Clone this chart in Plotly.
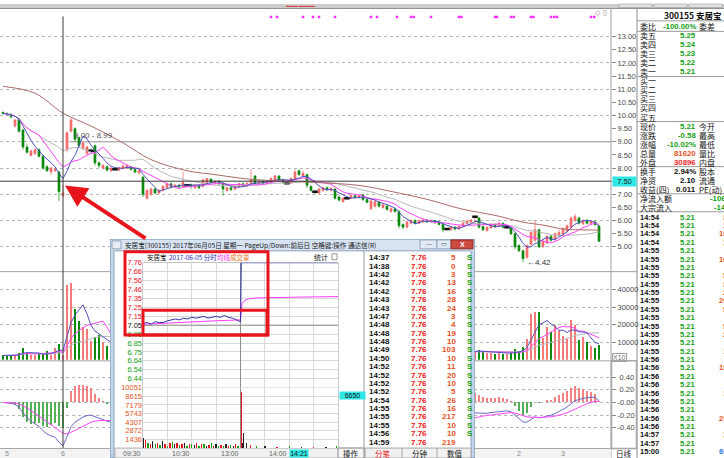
import pandas as pd
import plotly.graph_objects as go

W, H = 724, 458
CJK = "Noto Sans CJK SC"
LAT = "Liberation Sans"

RED = "#e8141b"
UP = "#f47a7a"
DOWN = "#0b8a0b"
GREEN = "#12a012"
ORANGE = "#e6501e"
BLUE_MA = "#5050bf"
PINK_MA = "#ff44ff"
GREY_MA = "#b8b8b8"
BROWN_MA = "#ad6a6a"

# ---------------- daily bars, 300155 (oldest -> newest) ----------------
opens = [
    10.12, 10.08, 10.02, 9.60, 9.85, 9.45, 8.80, 8.48, 8.55, 8.70,
    8.45, 8.05, 7.85, 7.90, 7.85, 6.95, 8.70, 9.40, 9.50, 9.15,
    8.75, 8.55, 8.66, 8.85, 8.20, 8.00, 8.05, 7.90, 7.95, 7.92,
    7.98, 8.00, 8.05, 7.95, 7.82, 7.65, 6.85, 7.00, 7.20, 7.05,
    7.15, 7.25, 7.40, 7.28, 7.35, 7.30, 7.35, 7.38, 7.25, 7.35,
    7.30, 7.45, 7.58, 7.42, 7.50, 7.42, 7.15, 7.25, 7.20, 7.28,
    7.40, 7.32, 7.40, 7.70, 7.40, 7.50, 7.42, 7.45, 7.55, 7.70,
    7.55, 7.42, 7.42, 7.60, 7.90, 7.70, 7.75, 7.30, 7.10, 7.05,
    7.15, 7.25, 7.15, 7.20, 6.90, 6.72, 6.85, 6.85, 6.95, 6.88,
    6.98, 6.80, 6.45, 6.55, 6.70, 6.50, 6.55, 6.35, 6.45, 6.35,
    5.85, 5.75, 5.90, 6.00, 5.90, 5.95, 6.02, 5.95, 6.00, 5.95,
    5.85, 5.68, 5.65, 5.75, 5.68, 5.78, 5.88, 5.95, 6.15, 6.10,
    5.78, 5.62, 5.72, 5.85, 5.78, 5.90, 5.75, 5.72, 5.50, 5.05,
    4.85, 4.60, 5.10, 5.25, 5.65, 5.00, 5.15, 5.40, 5.30, 5.45,
    5.50, 5.60, 5.75, 6.00, 6.10, 5.88, 6.00, 5.88, 5.95, 5.79,
]
highs = [
    10.15, 10.12, 10.10, 9.86, 9.90, 9.50, 8.90, 8.70, 8.75, 8.75,
    8.50, 8.10, 8.05, 8.00, 7.90, 7.35, 9.40, 9.90, 9.55, 9.20,
    9.00, 8.85, 8.75, 8.90, 8.25, 8.15, 8.10, 8.02, 8.00, 8.05,
    8.15, 8.12, 8.08, 7.98, 7.95, 7.70, 7.20, 7.25, 7.25, 7.20,
    7.35, 7.45, 7.45, 7.40, 7.40, 7.85, 7.40, 7.40, 7.40, 7.38,
    7.60, 7.62, 7.60, 7.55, 7.52, 7.45, 7.30, 7.28, 7.35, 7.45,
    7.45, 7.45, 7.95, 7.72, 7.55, 7.55, 7.55, 7.65, 7.75, 7.72,
    7.60, 7.50, 7.65, 7.95, 7.95, 7.90, 7.78, 7.35, 7.15, 7.25,
    7.30, 7.30, 7.28, 7.25, 6.95, 6.90, 6.90, 7.00, 6.98, 7.00,
    7.00, 6.85, 6.80, 6.80, 6.75, 6.65, 6.60, 6.50, 6.48, 6.40,
    5.90, 6.00, 6.05, 6.05, 6.05, 6.08, 6.05, 6.05, 6.02, 5.98,
    5.88, 5.72, 5.80, 5.78, 5.82, 5.95, 6.02, 6.05, 6.20, 6.12,
    5.80, 5.78, 5.90, 5.90, 5.95, 5.92, 5.80, 5.75, 5.55, 5.10,
    4.90, 5.10, 5.60, 6.00, 5.70, 5.30, 5.45, 5.45, 5.55, 5.65,
    5.75, 5.85, 6.15, 6.25, 6.15, 6.05, 6.05, 6.02, 6.00, 5.82,
]
lows = [
    10.05, 10.00, 9.90, 9.55, 9.35, 8.70, 8.55, 8.45, 8.50, 8.40,
    7.95, 7.85, 7.75, 7.85, 6.75, 6.90, 8.60, 9.35, 9.00, 8.80,
    8.70, 8.50, 8.60, 8.10, 8.00, 7.95, 7.88, 7.85, 7.90, 7.90,
    7.95, 7.98, 7.90, 7.80, 7.75, 6.90, 6.80, 6.95, 7.00, 7.00,
    7.10, 7.20, 7.25, 7.25, 7.25, 7.28, 7.30, 7.20, 7.20, 7.20,
    7.28, 7.40, 7.40, 7.38, 7.35, 6.95, 7.10, 7.12, 7.15, 7.25,
    7.28, 7.30, 7.38, 7.35, 7.38, 7.38, 7.40, 7.42, 7.50, 7.50,
    7.40, 7.38, 7.40, 7.55, 7.70, 7.65, 7.25, 7.10, 7.00, 7.00,
    7.10, 7.12, 7.10, 6.80, 6.72, 6.70, 6.80, 6.82, 6.85, 6.85,
    6.75, 6.65, 6.40, 6.50, 6.50, 6.45, 6.38, 6.30, 6.30, 5.70,
    5.68, 5.72, 5.85, 5.85, 5.88, 5.92, 5.90, 5.92, 5.88, 5.82,
    5.55, 5.62, 5.62, 5.62, 5.65, 5.75, 5.85, 5.90, 5.90, 5.70,
    5.60, 5.58, 5.70, 5.72, 5.75, 5.70, 5.70, 5.45, 4.90, 4.80,
    4.42, 4.55, 5.05, 5.20, 4.95, 4.98, 5.10, 5.20, 5.25, 5.40,
    5.45, 5.55, 5.70, 5.95, 5.85, 5.82, 5.85, 5.85, 5.80, 5.21,
]
closes = [
    10.08, 10.05, 9.95, 9.83, 9.40, 8.80, 8.60, 8.65, 8.70, 8.45,
    8.00, 7.90, 8.00, 7.95, 7.10, 7.05, 9.34, 9.83, 9.10, 8.85,
    8.95, 8.80, 8.66, 8.20, 8.10, 8.10, 7.92, 8.00, 7.95, 8.00,
    8.08, 8.10, 7.95, 7.85, 7.90, 7.00, 7.15, 7.20, 7.05, 7.15,
    7.30, 7.40, 7.30, 7.35, 7.28, 7.45, 7.35, 7.30, 7.35, 7.25,
    7.55, 7.60, 7.45, 7.50, 7.40, 7.20, 7.25, 7.18, 7.30, 7.40,
    7.32, 7.42, 7.55, 7.40, 7.50, 7.42, 7.50, 7.60, 7.70, 7.55,
    7.45, 7.42, 7.60, 7.85, 7.75, 7.80, 7.35, 7.15, 7.10, 7.20,
    7.25, 7.18, 7.22, 6.85, 6.78, 6.85, 6.85, 6.95, 6.88, 6.95,
    6.80, 6.70, 6.75, 6.72, 6.55, 6.60, 6.42, 6.45, 6.35, 5.80,
    5.75, 5.95, 6.00, 5.90, 6.00, 6.02, 5.95, 6.00, 5.92, 5.85,
    5.65, 5.68, 5.75, 5.68, 5.78, 5.90, 5.98, 6.02, 6.15, 5.75,
    5.65, 5.75, 5.85, 5.78, 5.90, 5.75, 5.75, 5.50, 5.00, 4.85,
    4.55, 5.05, 5.55, 5.65, 5.00, 5.20, 5.40, 5.25, 5.50, 5.55,
    5.70, 5.80, 6.10, 6.15, 5.90, 6.00, 5.90, 5.98, 5.85, 5.21,
]
volumes = [
    2500, 2200, 3000, 2800, 4000, 7000, 4000, 2500, 3000, 3200,
    3500, 4900, 3000, 7000, 9000, 3000, 43000, 44000, 29000, 22000,
    19000, 17500, 10700, 13000, 14000, 10000, 8000, 5000, 6000, 5500,
    7000, 6500, 5000, 4500, 4800, 9000, 8000, 6000, 4500, 5000,
    5500, 6000, 4500, 5000, 4200, 9500, 4000, 4500, 5000, 4200,
    7500, 8000, 5500, 5000, 4500, 7000, 5000, 4200, 4500, 5000,
    4800, 5200, 9000, 7000, 5000, 4500, 5000, 6000, 7000, 5500,
    5000, 4000, 6500, 9500, 8000, 6500, 7500, 6000, 4500, 4800,
    5000, 4500, 4200, 7000, 5500, 4500, 3800, 4200, 4000, 4300,
    4800, 4500, 6500, 5000, 4500, 4000, 4500, 4200, 4000, 8500,
    6000, 5500, 4800, 4200, 4000, 4300, 3800, 4000, 3900, 4200,
    6000, 4200, 4500, 4000, 4300, 5000, 5200, 4800, 5000, 5500,
    4500, 3800, 4200, 3600, 4000, 3500, 3200, 4500, 6000, 5000,
    7500, 12000, 26000, 27500, 27500, 12500, 19000, 16000, 20000, 16500,
    13500, 12000, 23000, 20000, 11500, 13000, 10000, 8000, 7000, 8500,
]

# 60-day average (bar index, price)
ma60_idx = [0, 8, 15, 22, 30, 37, 46, 53, 62, 70, 78, 89, 98, 106, 115, 123, 130, 135, 140, 148, 149]
ma60_val = [11.11, 10.85, 10.09, 9.60, 8.96, 8.32, 7.90, 7.75, 7.57, 7.50, 7.45, 7.34,
            7.08, 6.81, 6.43, 6.20, 5.94, 5.83, 5.68, 5.64, 5.63]

# info-mine markers along the top edge (bar index)
event_idx = [67, 68.5, 75, 77.5, 79, 83, 92, 93.5, 98.5, 102, 102.7, 107, 114, 114.6,
             123, 123.5, 127, 127.7, 132, 132.6, 137, 137.8, 138.5, 147, 147.8]

date_idx = [0, 14, 128, 139]
date_txt = ["5", "6", "2", "3"]
cross_idx = 15
cross_price = 7.50

# ---------------- intraday 2017-06-05 (minutes after 09:30) ----------------
base_price = 7.05
tick_min = [0, 5, 10, 15, 20, 25, 30, 35, 40, 45, 50, 55, 60, 65, 70, 75, 80, 85, 90, 95,
            100, 105, 110, 115, 120, 121, 240]
tick_px = [7.07, 7.08, 7.06, 7.09, 7.08, 7.08, 7.10, 7.11, 7.12, 7.11, 7.13, 7.12, 7.14,
           7.13, 7.14, 7.15, 7.13, 7.14, 7.15, 7.14, 7.16, 7.14, 7.13, 7.11, 7.09, 7.76, 7.76]
avg_min = [0, 30, 60, 90, 120, 121, 122, 125, 130, 140, 160, 200, 240]
avg_px = [7.06, 7.075, 7.09, 7.10, 7.11, 7.25, 7.30, 7.33, 7.35, 7.36, 7.365, 7.37, 7.375]
ivol_min = [0, 3, 6, 9, 12, 15, 18, 21, 24, 27, 30, 33, 36, 39, 42, 45, 48, 51, 54, 57,
            60, 63, 66, 69, 72, 75, 78, 81, 84, 87, 90, 93, 96, 99, 102, 105, 108, 111, 114, 117,
            121, 123, 124, 127, 132, 140, 150, 165, 180, 195, 210, 225, 238]
ivol = [1600, 1300, 900, 700, 1100, 600, 800, 500, 1200, 700, 400, 900, 1000, 600, 800, 500,
        700, 900, 400, 600, 700, 500, 800, 400, 600, 700, 300, 500, 900, 400, 600, 300, 500,
        400, 700, 300, 500, 400, 600, 300,
        9400, 800, 2500, 900, 500, 350, 300, 250, 300, 200, 250, 200, 300]
ivol_dir = list("krgrkgrgkrgrgkrgrkgrgkrgrgkrgrkgrgkrgkrg") + list("rkkkrgkrgkrkg")
pct_levels = [10.07, 8.63, 7.19, 5.75, 4.32, 2.88, 1.44, 0.00, -1.44, -2.88, -4.32, -5.75, -7.19, -8.63]
price_labels = ["7.76", "7.66", "7.56", "7.46", "7.35", "7.25", "7.15", "7.05", "6.95", "6.85",
                "6.75", "6.64", "6.54", "6.44"]
ivol_ticks = [1436, 2872, 4307, 5743, 7179, 8615, 10051]

# tick-by-tick list in the pop-up
fb_time = ["14:37", "14:38", "14:42", "14:42", "14:42", "14:43", "14:43", "14:47", "14:48",
           "14:48", "14:48", "14:49", "14:50", "14:52", "14:52", "14:52", "14:52", "14:54",
           "14:55", "14:55", "14:55", "14:56", "14:59"]
fb_price = ["7.76", "7.76", "7.76", "7.76", "7.76", "7.76", "7.76", "7.76", "7.76", "7.76",
            "7.76", "7.76", "7.76", "7.76", "7.76", "7.76", "7.76", "7.76", "7.76", "7.76",
            "7.76", "7.76", "7.76"]
fb_vol = [5, 0, 3, 13, 16, 28, 24, 3, 4, 19, 10, 103, 10, 11, 20, 10, 5, 26, 16, 217, 10, 10, 219]
fb_flag = ["S", "S", "S", "S", "S", "S", "S", "S", "S", "S", "S", "S", "S", "S", "S", "S",
           "S", "S", "S", "S", "S", "S", ""]

# quote panel on the right
quote_labels = ["委比", "卖五", "卖四", "卖三", "卖二", "卖一", "买一", "买二", "买三", "买四", "买五",
                "现价", "涨跌", "涨幅", "总量", "外盘", "换手", "净资", "收益(四)", "净流入额", "大宗流入"]
quote_values = ["-100.00%", "5.25", "5.24", "5.23", "5.22", "5.21", "", "", "", "", "",
                "5.21", "-0.58", "-10.02%", "81620", "30896", "2.94%", "2.10", "0.011", "-106", "-14"]
quote_kind = ["g", "g", "g", "g", "g", "g", "", "", "", "", "",
              "g", "g", "g", "o", "r", "k", "k", "k", "g", "g"]
quote_right = ["委差", "", "", "", "", "", "", "", "", "", "",
               "今开", "最高", "最低", "量比", "内盘", "股本", "流通", "PE(动)", "", ""]
tr_time = ["14:54", "14:54", "14:54", "14:54", "14:55", "14:55", "14:55", "14:55", "14:55",
           "14:55", "14:55", "14:55", "14:55", "14:55", "14:55", "14:55", "14:55", "14:56",
           "14:56", "14:56", "14:56", "14:56", "14:56", "14:56", "14:56", "14:56", "14:57",
           "14:57", "15:00"]
tr_price = ["5.21"] * 29
tr_vol = ["3", "1", "10", "1", "", "10", "", "5", "3", "2", "20", "5", "", "5", "2", "",
          "1", "", "15", "", "", "1", "", "", "25", "", "1", "", "60"]

KIND = {"g": GREEN, "r": "#f01e1e", "o": ORANGE, "k": "#111111", "": "#111111"}
DIR = {"r": RED, "g": GREEN, "k": "#222222"}

# ---------------- derived indicators ----------------
idx = list(range(len(closes)))
s = pd.Series(closes, dtype=float)
ma5 = s.rolling(5, min_periods=1).mean()
ma10 = s.rolling(10, min_periods=1).mean()
ma20 = s.rolling(20, min_periods=1).mean()
dif = s.ewm(span=12, adjust=False).mean() - s.ewm(span=26, adjust=False).mean()
dea = dif.ewm(span=9, adjust=False).mean()
macd = 2 * (dif - dea)
v = pd.Series(volumes, dtype=float)


def px(x):
    return x / W


def py(y):
    return 1 - y / H


fig = go.Figure()
nohover = dict(hoverinfo="skip", showlegend=False)

# price panel
fig.add_trace(go.Candlestick(
    x=idx, open=opens, high=highs, low=lows, close=closes, xaxis="x", yaxis="y",
    increasing=dict(line=dict(color="#f06060", width=0.7), fillcolor=UP),
    decreasing=dict(line=dict(color=DOWN, width=0.7), fillcolor=DOWN),
    whiskerwidth=0, **nohover))
doji = [i for i in idx if opens[i] == closes[i]]
fig.add_trace(go.Scatter(
    x=doji, y=[closes[i] for i in doji], mode="markers", xaxis="x", yaxis="y",
    marker=dict(symbol="line-ew", size=4, line=dict(color="#111", width=2.5)), **nohover))
for line, c in ((ma20, GREY_MA), (ma10, PINK_MA), (ma5, BLUE_MA)):
    fig.add_trace(go.Scatter(x=idx, y=line, mode="lines", xaxis="x", yaxis="y",
                             line=dict(color=c, width=1), **nohover))
fig.add_trace(go.Scatter(x=ma60_idx, y=ma60_val, mode="lines", xaxis="x", yaxis="y2",
                         line=dict(color=BROWN_MA, width=1, shape="spline"), **nohover))
fig.add_trace(go.Scatter(x=event_idx, y=[13.75] * len(event_idx), mode="markers", xaxis="x", yaxis="y",
                         marker=dict(symbol="square", size=2.5, color="#ff30ff"), **nohover))

# volume panel
vcol = [UP if c >= o else DOWN for o, c in zip(opens, closes)]
fig.add_trace(go.Bar(x=idx, y=volumes, width=0.6, xaxis="x2", yaxis="y3",
                     marker=dict(color=vcol, line=dict(width=0)), **nohover))
for n, c in ((20, GREY_MA), (10, PINK_MA), (5, BLUE_MA)):
    fig.add_trace(go.Scatter(x=idx, y=v.rolling(n, min_periods=1).mean(), mode="lines",
                             xaxis="x2", yaxis="y3", line=dict(color=c, width=1), **nohover))

# MACD panel
mcol = ["#f58282" if m >= 0 else "#55ad55" for m in macd]
fig.add_trace(go.Bar(x=idx, y=macd, width=0.4, xaxis="x3", yaxis="y4",
                     marker=dict(color=mcol, line=dict(width=0)), **nohover))
fig.add_trace(go.Scatter(x=idx, y=dif, mode="lines", xaxis="x3", yaxis="y4",
                         line=dict(color="#6a6ac8", width=1), **nohover))
fig.add_trace(go.Scatter(x=idx, y=dea, mode="lines", xaxis="x3", yaxis="y4",
                         line=dict(color=PINK_MA, width=1), **nohover))

# intraday chart inside the pop-up
fig.add_trace(go.Scatter(x=avg_min, y=avg_px, mode="lines", xaxis="x5", yaxis="y6",
                         line=dict(color="#ff3cff", width=1), **nohover))
fig.add_trace(go.Scatter(x=tick_min, y=tick_px, mode="lines", xaxis="x5", yaxis="y6",
                         line=dict(color="#3434a8", width=1), **nohover))
fig.add_trace(go.Bar(x=ivol_min, y=ivol, width=1.7, xaxis="x5", yaxis="y8",
                     marker=dict(color=[DIR[d] for d in ivol_dir], line=dict(width=0)), **nohover))

# ---------------- axes ----------------
ax_font = dict(family=LAT, size=7.5, color="#4a4a4a")
xcommon = dict(range=[-0.75, 152], showticklabels=False, showgrid=False, zeroline=False,
               showline=False, ticks="", fixedrange=True)


def right_axis(domain, rng, vals, text, grid):
    return dict(domain=domain, range=rng, side="right", tickvals=vals, ticktext=text,
                ticks="outside", ticklen=4, tickcolor="#8c8c8c", tickfont=ax_font,
                showgrid=grid, gridcolor="#b4b4b4", griddash="dot", zeroline=False,
                showline=False, fixedrange=True)


price_ticks = [5.0 + 0.5 * k for k in range(17)]
macd_ticks = [-0.4, -0.2, 0.0, 0.2, 0.4]

pct_vals = [base_price * (1 + p / 100) for p in pct_levels]


def colour_for(p, txt):
    c = RED if p > 0 else ("#111111" if p == 0 else GREEN)
    return f'<span style="color:{c}">{txt}</span>'


left_text = [colour_for(p, t) for p, t in zip(pct_levels, price_labels)]
right_text = [colour_for(p, f"{abs(p):.2f}%") for p in pct_levels]
ivol_text = [f'<span style="color:{ORANGE}">{t}</span>' for t in ivol_ticks]
grid_light = "#d9d9d9"
in_font = dict(family=LAT, size=7.5, color="#333")

fig.update_layout(
    xaxis=dict(domain=[0, px(611)], anchor="y", rangeslider=dict(visible=False), **xcommon),
    yaxis=right_axis([py(268), py(5)], [4.132, 14.057], price_ticks,
                     [f"{t:.2f}" for t in price_ticks], False) | dict(anchor="x"),
    yaxis2=dict(overlaying="y", anchor="x", range=[4.132, 14.057], tickvals=list(range(5, 14)),
                showticklabels=False, ticks="", showgrid=True, gridcolor="#b4b4b4",
                griddash="dot", zeroline=False, fixedrange=True),
    xaxis2=dict(domain=[0, px(611)], anchor="y3", **xcommon),
    yaxis3=right_axis([py(359), py(271)], [0, 49800], [10000, 20000, 30000, 40000],
                      ["10000", "20000", "30000", "40000"], True) | dict(anchor="x2"),
    xaxis3=dict(domain=[0, px(611)], anchor="y4", **xcommon),
    yaxis4=right_axis([py(448), py(360)], [-0.722, 0.659], macd_ticks,
                      ["-0.40", "-0.20", "-0.00", " 0.20", " 0.40"], True) | dict(anchor="x3"),
    # pop-up window frame, measured in screen pixels
    xaxis4=dict(domain=[px(110), px(475)], range=[110, 475], visible=False, anchor="y5", fixedrange=True),
    yaxis5=dict(domain=[0, py(237)], range=[458, 237], visible=False, anchor="x4", fixedrange=True),
    # intraday chart
    xaxis5=dict(domain=[px(143), px(338)], range=[0, 240], anchor="y8", tickvals=list(range(0, 241, 30)),
                showticklabels=False, ticks="", showgrid=True, gridcolor=grid_light, zeroline=False,
                showline=False, fixedrange=True),
    yaxis6=dict(domain=[py(387), py(261)], range=[6.34, 7.76], anchor="x5", side="left",
                tickvals=pct_vals, ticktext=left_text, ticks="", tickfont=in_font, showgrid=True,
                gridcolor=grid_light, zeroline=False, fixedrange=True),
    yaxis7=dict(overlaying="y6", anchor="x5", side="right", range=[6.34, 7.76], tickvals=pct_vals,
                ticktext=right_text, ticks="", tickfont=in_font, showgrid=False, zeroline=False,
                fixedrange=True),
    yaxis8=dict(domain=[py(448), py(387)], range=[0, 10051], anchor="x5", side="left",
                tickvals=ivol_ticks, ticktext=ivol_text, ticks="", tickfont=in_font, showgrid=True,
                gridcolor=grid_light, zeroline=False, fixedrange=True),
    yaxis9=dict(overlaying="y8", anchor="x5", side="right", range=[0, 10051], tickvals=ivol_ticks,
                ticktext=ivol_text, ticks="", tickfont=in_font, showgrid=False, zeroline=False,
                fixedrange=True),
)

# ---------------- shapes ----------------
shapes = []


def prect(x0, y0, x1, y1, fill=None, line=None, lw=1):
    shapes.append(dict(type="rect", xref="paper", yref="paper", x0=px(x0), x1=px(x1), y0=py(y0), y1=py(y1),
                       fillcolor=fill or "rgba(0,0,0,0)", line=dict(color=line or "rgba(0,0,0,0)", width=lw),
                       layer="below"))


def pline(x0, y0, x1, y1, color="#a0a0a0", lw=1):
    shapes.append(dict(type="line", xref="paper", yref="paper", x0=px(x0), x1=px(x1), y0=py(y0), y1=py(y1),
                       line=dict(color=color, width=lw), layer="below"))


def wrect(x0, y0, x1, y1, fill=None, line=None, lw=1, layer="below"):
    shapes.append(dict(type="rect", xref="x4", yref="y5", x0=x0, x1=x1, y0=y0, y1=y1,
                       fillcolor=fill or "rgba(0,0,0,0)", line=dict(color=line or "rgba(0,0,0,0)", width=lw),
                       layer=layer))


def wline(x0, y0, x1, y1, color="#9a9a9a", lw=1):
    shapes.append(dict(type="line", xref="x4", yref="y5", x0=x0, x1=x1, y0=y0, y1=y1,
                       line=dict(color=color, width=lw), layer="below"))


# main window chrome
prect(0, 0, 724, 4.5, fill="#cdcdcd")
pline(0, 4.5, 724, 4.5, "#8f8f8f")
for x0 in (619, 654, 689):
    prect(x0, 0, x0 + 33, 3.5, fill="#e4e4e4", line="#9a9a9a", lw=0.6)
pline(0, 270, 637, 270)
pline(0, 360, 611, 360)
pline(0, 448.5, 637, 448.5)
pline(611, 4.5, 611, 458)
pline(637, 4.5, 637, 458, "#8c8c8c")
prect(611.5, 360, 636.5, 448.5, line="#a8a8a8", lw=1.5)
prect(0, 449, 611, 458, fill="#f3f3f3")
for k in range(len(quote_labels)):
    if k in (0, 5, 10, 15, 18, 20):
        y = 23 + 9.1 * k + 4.6
        pline(637, y, 724, y, "#9a9a9a")
pline(637, 17, 724, 17, "#9a9a9a")

# reference lines on the price panel
shapes.append(dict(type="line", xref="x", yref="y", x0=16.75, x1=152, y0=9.0, y1=9.0,
                   line=dict(color="#8a8a8a", width=1), layer="below"))
shapes.append(dict(type="line", xref="x", yref="paper", x0=cross_idx, x1=cross_idx, y0=py(448), y1=py(12.5),
                   line=dict(color="#3a3a3a", width=1), layer="above"))
shapes.append(dict(type="line", xref="paper", yref="y", x0=0, x1=px(611), y0=cross_price, y1=cross_price,
                   line=dict(color="#3a3a3a", width=1), layer="above"))

# pop-up window
wrect(110, 237, 475, 458, fill="#c6d6ea", line="#6f89ab")
wrect(111, 238, 474, 249, fill="#d7e3f2")
wrect(114, 249, 471, 458, fill="#ffffff", line="#8da2bd")
wrect(112, 239, 121, 247, fill="#e9eef5", line="#7d8fa8", lw=0.8)
wrect(143, 261, 338, 448, line="#9a9a9a")
wline(143, 387, 338, 387, "#8c8c8c")
wline(364, 249, 364, 458, "#9a9a9a")
wrect(115, 448, 364, 458, fill="#f1f1f1", line="#b0b0b0")
wrect(338, 448, 364, 458, fill="#f6f6f6", line="#8f8f8f")
wrect(365, 448, 471, 458, fill="#f1f1f1", line="#a5a5a5")
wline(402, 448, 402, 458, "#a5a5a5")
wline(437, 448, 437, 458, "#a5a5a5")
wrect(332, 252, 337, 258, line="#777777", lw=0.8)
wrect(420, 238, 437, 247, fill="#e1e9f4", line="#8ea3c0")
wrect(437, 238, 451, 247, fill="#e1e9f4", line="#8ea3c0")
wrect(451, 238, 473, 247, fill="#cc4a40", line="#8a2b24")
# intraday base line and lunch break, drawn between grid and lines
shapes.append(dict(type="line", xref="x5", yref="y6", x0=0, x1=240, y0=base_price, y1=base_price,
                   line=dict(color="#8c8c8c", width=1), layer="between"))
for yr, top in (("y6", 7.76), ("y8", 10051)):
    shapes.append(dict(type="line", xref="x5", yref=yr, x0=120, x1=120, y0=0 if yr == "y8" else 6.34,
                       y1=top, line=dict(color="#8c8c8c", width=1), layer="between"))
# red highlight boxes
wrect(125, 250, 268, 334, line=RED, lw=3, layer="above")
wrect(143, 309, 267, 334, line=RED, lw=3, layer="above")

# ---------------- text ----------------
ann = []


def txt(x, y, s, color="#111", size=8, anchor="left", font=CJK, bold=False, bg=None, width=None, border=None):
    if bold:
        s = f"<b>{s}</b>"
    a = dict(x=px(x), y=py(y), xref="paper", yref="paper", text=s, showarrow=False,
             xanchor=anchor, yanchor="middle", font=dict(size=size, color=color, family=font), borderpad=0)
    if bg:
        a["bgcolor"] = bg
    if width:
        a["width"] = width
        a["align"] = "center"
    if border:
        a["bordercolor"] = border
        a["borderwidth"] = 1
    ann.append(a)


# price panel labels
ann.append(dict(x=17.2, y=9.0, xref="x", yref="y", text="9.00 - 8.99", showarrow=False, xanchor="left",
                yanchor="bottom", font=dict(size=8, color="#555", family=LAT)))
ann.append(dict(x=130.4, y=4.42, xref="x", yref="y", text="←4.42", showarrow=False, xanchor="left",
                yanchor="middle", font=dict(size=8, color="#333", family=LAT)))
txt(612, 179, "7.50", "#222", 7.5, "left", LAT, bg="#2ee8e8", width=23)
txt(612, 357, "X10", "#777", 7, "left", LAT, border="#a0a0a0")
txt(624, 453.5, "日线", "#222", 7.5, "center")
txt(598, 9, "◇", "#777", 7, "center", LAT)
txt(605, 9, "▯", "#777", 7, "center", LAT)
txt(300, 1.5, "▬▬▬ ▬▬▬▬", "#e04040", 4, "center", LAT)
for i, t in zip(date_idx, date_txt):
    ann.append(dict(x=i, y=py(453.5), xref="x", yref="paper", text=t, showarrow=False, xanchor="left",
                    yanchor="middle", font=dict(size=7, color="#888", family=LAT)))

# arrow from the pop-up to the crosshair bar
ann.append(dict(x=px(65), y=py(183), xref="paper", yref="paper", ax=82, ay=54, text="", showarrow=True,
                arrowhead=2, arrowsize=1.1, arrowwidth=4, arrowcolor=RED, standoff=0))

# quote panel
txt(693, 11, "300155 安居宝", "#111", 8.5, "center", bold=True)
for k, lab in enumerate(quote_labels):
    y = 23 + 9.1 * k
    txt(639, y, lab, "#111", 8, "left")
    if quote_values[k]:
        xr = 727 if k >= 19 else 697
        txt(xr, y, quote_values[k], KIND[quote_kind[k]], 7.8, "right", LAT, bold=True)
    if quote_right[k]:
        txt(698, y, quote_right[k], "#111", 8, "left")
for k, (t, p, q) in enumerate(zip(tr_time, tr_price, tr_vol)):
    y = 215 + 8.45 * k
    txt(639, y, t, "#111", 7.5, "left", LAT, bold=True)
    txt(696, y, p, GREEN, 7.5, "right", LAT, bold=True)
    if q:
        txt(728, y, q, "#1e78e6" if t == "15:00" else ORANGE, 7.5, "right", LAT, bold=True)

# pop-up title bar and headers
txt(124, 243, "安居宝(300155) 2017年06月05日 星期一 PageUp/Down:前后日 空格键:操作 通达信(R)", "#1a1a1a", 6.6)
txt(428.5, 242.5, "—", "#44546a", 6, "center", LAT)
txt(444, 242.5, "▭", "#44546a", 6, "center", LAT)
txt(462, 242.5, "X", "#ffffff", 7, "center", LAT, bold=True)
txt(146, 255.5, "安居宝", "#111", 6.5)
txt(168, 255.5, "2017-06-05 分时", "#2b2bb0", 6.5)
txt(216, 255.5, "均线", "#ff30ff", 6.5)
txt(229, 255.5, "成交量", "#f07020", 6.5)
txt(313, 255.5, "统计", "#111", 7)
for m, t in zip([0, 60, 120, 180], ["09:30", "10:30", "13:00", "14:00"]):
    ann.append(dict(x=m, y=py(453.5), xref="x5", yref="paper", text=t, showarrow=False, xanchor="right",
                    yanchor="middle", font=dict(size=7, color="#666", family=LAT)))
txt(289, 453.5, "14:21", "#111", 7, "left", LAT, bg="#2ee8e8", width=18)
txt(351, 453.5, "操作", "#111", 7.5, "center")
txt(338.5, 394.5, "6650", "#111", 7, "left", LAT, bg="#2ee8e8", width=25)

# tick-by-tick list
for k in range(len(fb_time)):
    y = 256 + 8.45 * k
    txt(368, y, fb_time[k], "#111", 8, "left", LAT, bold=True)
    txt(428, y, fb_price[k], "#f01010", 8, "right", LAT, bold=True)
    txt(457, y, str(fb_vol[k]), ORANGE, 8, "right", LAT, bold=True)
    if fb_flag[k]:
        txt(466, y, fb_flag[k], GREEN, 8, "left", LAT, bold=True)
txt(383, 453.5, "分笔", RED, 7.5, "center")
txt(420, 453.5, "分钟", "#111", 7.5, "center")
txt(455, 453.5, "数值", "#111", 7.5, "center")

fig.update_layout(
    width=W, height=H, autosize=False, margin=dict(l=0, r=0, t=0, b=0),
    paper_bgcolor="#ffffff", plot_bgcolor="#ffffff", showlegend=False,
    hovermode=False, dragmode=False, bargap=0,
    shapes=shapes, annotations=ann,
)

fig.write_html("out.html", config={"displayModeBar": False, "staticPlot": True},
               post_script="document.body.style.margin='0px';")
